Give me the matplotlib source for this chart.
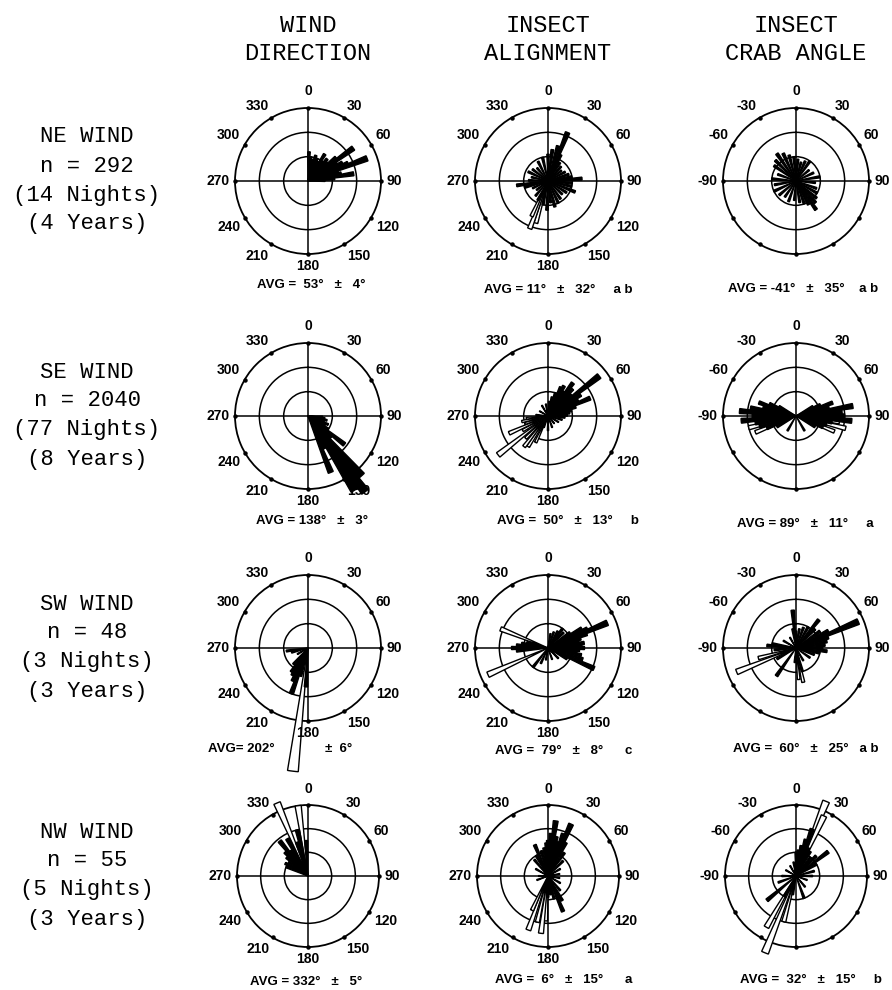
import numpy as np
import matplotlib
matplotlib.use("Agg")
import matplotlib.pyplot as plt

# ---- column / row text ----
COL_HEADERS = [("WIND", "DIRECTION"), ("INSECT", "ALIGNMENT"), ("INSECT", "CRAB ANGLE")]
ROW_LABELS = [
    ("NE WIND", "n = 292", "(14 Nights)", "(4 Years)"),
    ("SE WIND", "n = 2040", "(77 Nights)", "(8 Years)"),
    ("SW WIND", "n = 48", "(3 Nights)", "(3 Years)"),
    ("NW WIND", "n = 55", "(5 Nights)", "(3 Years)"),
]
DIR_TICKS = [0, 30, 60, 90, 120, 150, 180, 210, 240, 270, 300, 330]
CRAB_TICKS = [0, 30, 60, 90, -90, -60, -30]

AVG_TEXT = [
    ["AVG =  53°   ±   4°", "AVG = 11°   ±   32°     a b", "AVG = -41°   ±   35°    a b"],
    ["AVG = 138°   ±   3°", "AVG =  50°   ±   13°     b", "AVG = 89°   ±   11°     a"],
    ["AVG= 202°", "AVG =  79°   ±   8°      c", "AVG =  60°   ±   25°   a b"],
    ["AVG = 332°   ±   5°", "AVG =  6°   ±   15°      a", "AVG =  32°   ±   15°     b"],
]

# ---- spokes (degrees clockwise from north, length in ring units; outer ring = 3) ----
NE_DIR_ANG = [2, 7, 12, 17, 22, 27, 32, 36, 41, 46, 50, 54, 58, 62, 66, 69, 73, 77, 81, 85, 89]
NE_DIR_LEN = [1.2, 1.0, 0.9, 1.1, 1.0, 0.9, 1.3, 1.0, 1.2, 1.1, 1.5, 2.3, 1.4, 1.6, 1.8, 2.6, 1.3, 1.4, 1.9, 1.1, 0.7]
NE_DIR_OPEN_ANG = []
NE_DIR_OPEN_LEN = []

SE_DIR_ANG = [93, 98, 103, 108, 113, 118, 123, 128, 133, 138, 143, 148, 153, 158]
SE_DIR_LEN = [0.6, 0.7, 0.8, 0.7, 0.9, 0.8, 1.0, 1.9, 1.3, 3.3, 3.9, 3.6, 1.5, 2.5]
SE_DIR_OPEN_ANG = []
SE_DIR_OPEN_LEN = []

SW_DIR_ANG = [183, 195, 200, 205, 210, 215, 222, 240, 255, 262]
SW_DIR_LEN = [1.6, 1.2, 2.0, 1.5, 1.3, 1.2, 0.9, 0.5, 0.7, 0.9]
SW_DIR_OPEN_ANG = [187]
SW_DIR_OPEN_LEN = [5.1]

NW_DIR_ANG = [293, 299, 305, 311, 316, 321, 326, 331, 342, 347, 357]
NW_DIR_LEN = [1.0, 1.1, 1.0, 1.2, 1.4, 1.9, 1.3, 1.8, 1.5, 2.0, 1.5]
NW_DIR_OPEN_ANG = [337, 352]
NW_DIR_OPEN_LEN = [3.35, 3.0]

NE_ALN_ANG = [0, 8, 16, 22, 26, 33, 42, 52, 62, 72, 80, 86, 95, 103, 112, 122, 133, 145, 155, 165, 173,
              182, 192, 208, 220, 232, 245, 255, 262, 272, 283, 295, 307, 320, 333, 347]
NE_ALN_LEN = [1.1, 1.3, 1.5, 2.15, 1.2, 0.9, 0.8, 0.7, 0.8, 0.9, 1.0, 1.4, 1.0, 1.0, 1.2, 0.9, 0.8, 0.9,
              1.0, 1.1, 0.9, 1.2, 1.0, 0.9, 0.8, 0.6, 0.7, 1.0, 1.3, 0.8, 0.7, 0.9, 0.8, 0.7, 0.9, 1.0]
NE_ALN_OPEN_ANG = [196, 201, 205]
NE_ALN_OPEN_LEN = [1.8, 2.1, 1.6]

SE_ALN_ANG = [5, 12, 18, 24, 28, 33, 37, 42, 47, 52, 57, 62, 67, 72, 77, 82, 88, 95, 105, 120, 140,
              160, 180, 200, 275, 300, 330, 350]
SE_ALN_LEN = [0.6, 0.8, 1.0, 1.3, 1.4, 1.2, 1.7, 1.5, 1.3, 2.67, 1.6, 1.4, 1.88, 1.2, 1.0, 0.9, 0.8,
              0.7, 0.6, 0.5, 0.4, 0.5, 0.6, 0.5, 0.5, 0.4, 0.5, 0.5]
SE_ALN_OPEN_ANG = [205, 213, 218, 225, 232, 240, 246, 252, 258, 264]
SE_ALN_OPEN_LEN = [1.2, 1.5, 1.6, 1.3, 2.6, 1.2, 1.75, 1.0, 1.1, 0.9]

SW_ALN_ANG = [10, 20, 30, 37, 45, 55, 60, 64, 67, 70, 74, 78, 82, 86, 90, 94, 98, 102, 108, 114, 120,
              135, 160, 190, 205, 218, 265, 270, 275, 280, 285]
SW_ALN_LEN = [0.6, 0.7, 0.8, 1.0, 0.9, 1.1, 1.6, 1.8, 2.65, 1.7, 1.4, 1.3, 1.5, 1.4, 1.5, 1.3, 1.2,
              1.4, 1.5, 2.07, 0.9, 0.6, 0.5, 0.5, 0.7, 1.0, 1.3, 1.5, 1.3, 1.1, 0.9]
SW_ALN_OPEN_ANG = [246, 292]
SW_ALN_OPEN_LEN = [2.7, 2.1]

NW_ALN_ANG = [0, 4, 8, 12, 16, 20, 24, 28, 35, 45, 60, 80, 100, 120, 140, 150, 157, 165, 172, 180,
              190, 250, 270, 300, 320, 330, 337, 345, 352, 357]
NW_ALN_LEN = [1.5, 1.8, 2.35, 1.7, 1.5, 1.9, 2.4, 1.6, 1.2, 0.9, 0.6, 0.5, 0.5, 0.6, 0.8, 1.2, 1.63,
              1.0, 0.8, 0.9, 0.7, 0.5, 0.4, 0.6, 0.9, 1.0, 1.43, 1.1, 1.2, 1.4]
NW_ALN_OPEN_ANG = [183, 187, 193, 200, 205]
NW_ALN_OPEN_LEN = [1.9, 2.44, 2.0, 2.43, 1.6]

NE_CRAB_ANG = [-175, -160, -145, -130, -115, -100, -85, -70, -55, -45, -35, -25, -15, -5, 5, 15, 25,
               35, 50, 65, 80, 95, 110, 120, 130, 138, 145, 152, 160, 170]
NE_CRAB_LEN = [0.8, 0.9, 0.8, 0.9, 1.0, 0.9, 1.0, 0.8, 1.1, 1.2, 1.37, 1.25, 1.1, 1.0, 0.9, 0.8, 0.9,
               1.0, 0.7, 0.8, 1.0, 0.8, 0.9, 1.0, 1.1, 1.2, 1.44, 1.1, 1.0, 0.9]
NE_CRAB_OPEN_ANG = []
NE_CRAB_OPEN_LEN = []

SE_CRAB_ANG = [-120, -113, -106, -100, -95, -90, -85, -80, -75, -70, -65, -60,
               60, 65, 70, 75, 80, 85, 90, 95, 100, 106, 113, 120]
SE_CRAB_LEN = [0.9, 1.3, 1.56, 1.7, 2.26, 1.8, 2.33, 1.9, 1.4, 1.62, 1.2, 0.8,
               0.8, 1.1, 1.6, 1.4, 2.37, 1.9, 2.0, 2.3, 1.5, 1.3, 1.2, 0.9]
SE_CRAB_OPEN_ANG = [-112, -104, -98, 98, 104, 112, 150, -150]
SE_CRAB_OPEN_LEN = [1.8, 2.0, 1.6, 1.8, 2.1, 1.7, 0.7, 0.7]

SW_CRAB_ANG = [-175, -145, -120, -95, -85, -80, -60, -30, -10, -5, 0, 10, 20, 30, 39, 45, 55, 62, 67,
               72, 78, 84, 90, 96, 102, 110, 125, 150, 165]
SW_CRAB_LEN = [0.6, 1.4, 0.9, 0.9, 1.2, 1.0, 0.6, 0.5, 0.8, 1.56, 0.7, 0.8, 0.9, 1.0, 1.49, 1.1, 1.2,
               1.5, 2.78, 1.4, 1.3, 1.2, 1.1, 1.28, 1.0, 0.8, 0.7, 0.6, 1.0]
SW_CRAB_OPEN_ANG = [-112, -105, 168, 175]
SW_CRAB_OPEN_LEN = [2.63, 1.6, 1.44, 1.3]

NW_CRAB_ANG = [-170, -150, -130, -110, -90, -60, -30, -10, 0, 5, 10, 15, 19, 24, 30, 38, 45, 53, 60,
               75, 90, 110, 140, 160]
NW_CRAB_LEN = [0.8, 1.0, 1.6, 0.8, 0.6, 0.5, 0.5, 0.6, 1.0, 1.1, 1.3, 1.6, 2.1, 1.3, 1.2, 1.0, 1.2,
               1.7, 1.0, 0.8, 0.7, 0.5, 0.6, 1.0]
NW_CRAB_OPEN_ANG = [-158, -150, -165, 22, 25]
NW_CRAB_OPEN_LEN = [3.5, 2.5, 2.0, 3.4, 2.8]

PANELS = [
    [(NE_DIR_ANG, NE_DIR_LEN, NE_DIR_OPEN_ANG, NE_DIR_OPEN_LEN),
     (NE_ALN_ANG, NE_ALN_LEN, NE_ALN_OPEN_ANG, NE_ALN_OPEN_LEN),
     (NE_CRAB_ANG, NE_CRAB_LEN, NE_CRAB_OPEN_ANG, NE_CRAB_OPEN_LEN)],
    [(SE_DIR_ANG, SE_DIR_LEN, SE_DIR_OPEN_ANG, SE_DIR_OPEN_LEN),
     (SE_ALN_ANG, SE_ALN_LEN, SE_ALN_OPEN_ANG, SE_ALN_OPEN_LEN),
     (SE_CRAB_ANG, SE_CRAB_LEN, SE_CRAB_OPEN_ANG, SE_CRAB_OPEN_LEN)],
    [(SW_DIR_ANG, SW_DIR_LEN, SW_DIR_OPEN_ANG, SW_DIR_OPEN_LEN),
     (SW_ALN_ANG, SW_ALN_LEN, SW_ALN_OPEN_ANG, SW_ALN_OPEN_LEN),
     (SW_CRAB_ANG, SW_CRAB_LEN, SW_CRAB_OPEN_ANG, SW_CRAB_OPEN_LEN)],
    [(NW_DIR_ANG, NW_DIR_LEN, NW_DIR_OPEN_ANG, NW_DIR_OPEN_LEN),
     (NW_ALN_ANG, NW_ALN_LEN, NW_ALN_OPEN_ANG, NW_ALN_OPEN_LEN),
     (NW_CRAB_ANG, NW_CRAB_LEN, NW_CRAB_OPEN_ANG, NW_CRAB_OPEN_LEN)],
]

# layout in pixels (figure is 892 x 990)
W, H = 892, 990
COL_X = [308, 548, 796]
ROW_Y = [181, 416, 648, 876]
ROW_RAD = [73, 73, 73, 71]
AVG_POS = [[(257, 285), (484, 290), (728, 289)],
           [(256, 521), (497, 521), (737, 524)],
           [(208, 749), (495, 751), (733, 749)],
           [(250, 982), (495, 980), (740, 980)]]

NUM_FONT = dict(family="Liberation Sans", weight="bold")
MONO = "Liberation Mono"


def rose(ax, ang, ln, open_ang, open_len, ticks):
    ax.set_theta_zero_location("N")
    ax.set_theta_direction(-1)
    ax.set_ylim(0, 3)
    ax.set_yticks([1, 2])
    ax.set_yticklabels([])
    ax.set_xticks(np.deg2rad([0, 90, 180, 270]))
    ax.set_xticklabels([])
    ax.tick_params(length=0)
    ax.grid(True, color="black", lw=1.1)
    ax.spines["polar"].set_linewidth(1.3)
    ax.patch.set_alpha(0)
    w = np.deg2rad(5)
    if open_ang:
        ax.bar(np.deg2rad(open_ang), open_len, width=w, bottom=0, facecolor="white",
               edgecolor="black", lw=1.0, clip_on=False, zorder=3)
    ax.bar(np.deg2rad(ang), ln, width=w, bottom=0, facecolor="black",
           edgecolor="black", lw=1.0, clip_on=False, zorder=4)
    dots = np.deg2rad(DIR_TICKS)
    ax.plot(dots, [3] * len(dots), "o", color="black", ms=2.2, clip_on=False, zorder=5)
    for t in ticks:
        th = np.deg2rad(t)
        s, c = np.sin(th), np.cos(th)
        ha = "left" if s > 0.3 else ("right" if s < -0.3 else "center")
        va = "bottom" if c > 0.3 else ("top" if c < -0.3 else "center")
        r = 3.4 if t == 0 else 3.22
        ax.text(th, r, str(t), ha=ha, va=va, fontsize=10, clip_on=False, **NUM_FONT)


fig = plt.figure(figsize=(W / 100, H / 100), dpi=100)

for c, (l1, l2) in enumerate(COL_HEADERS):
    fig.text(COL_X[c] / W, 1 - 25 / H, l1, ha="center", va="center", family=MONO, fontsize=17)
    fig.text(COL_X[c] / W, 1 - 53 / H, l2, ha="center", va="center", family=MONO, fontsize=17)

for r, lines in enumerate(ROW_LABELS):
    for k, s in enumerate(lines):
        y = ROW_Y[r] - 44 + 29 * k
        fig.text(87 / W, 1 - y / H, s, ha="center", va="center", family=MONO, fontsize=16)

for r in range(4):
    for c in range(3):
        cx, cy, rad = COL_X[c], ROW_Y[r], ROW_RAD[r]
        ax = fig.add_axes([(cx - rad) / W, 1 - (cy + rad) / H, 2 * rad / W, 2 * rad / H],
                          projection="polar")
        ang, ln, oa, ol = PANELS[r][c]
        rose(ax, ang, ln, oa, ol, DIR_TICKS if c < 2 else CRAB_TICKS)
        x, y = AVG_POS[r][c]
        fig.text(x / W, 1 - y / H, AVG_TEXT[r][c], ha="left", va="center", fontsize=9.5, **NUM_FONT)

# split label around the long SW spoke
fig.text(325 / W, 1 - 749 / H, "±  6°", ha="left", va="center", fontsize=9.5, **NUM_FONT)

fig.savefig("out.png", dpi=100)
